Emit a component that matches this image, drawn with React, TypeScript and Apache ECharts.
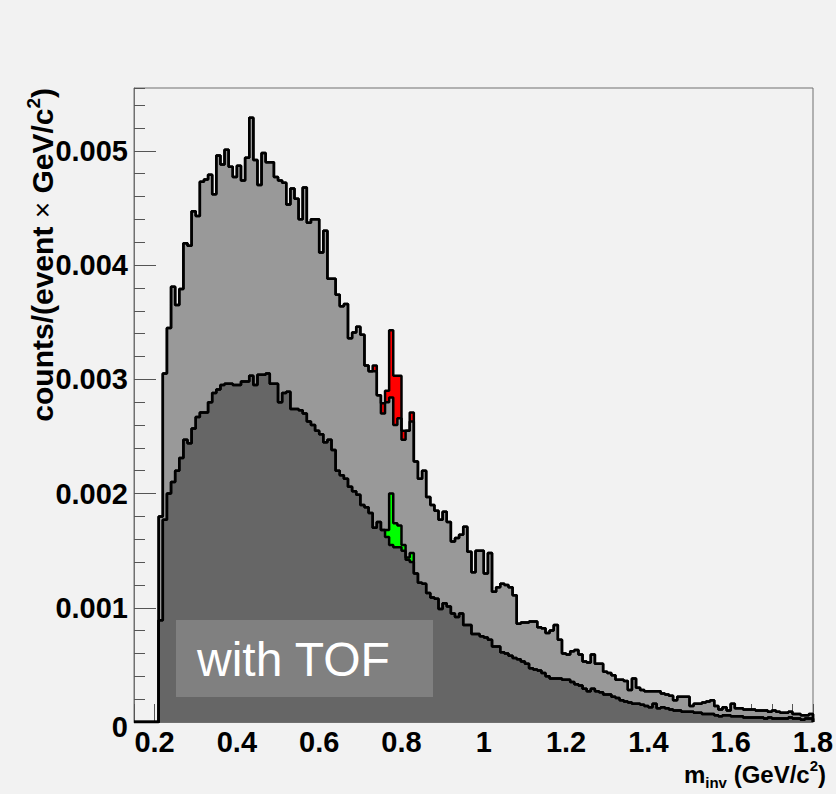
import React, { useEffect, useRef } from 'react';
import * as echarts from 'echarts';

// ---- binning (GeV/c^2) ----
const BIN_START = 0.15;
const BIN_WIDTH = 0.01;
const X_MIN = 0.15;
const X_MAX = 1.8;
const Y_MAX = 0.00555;
const VALUE_UNIT = 0.001; // arrays below are in units of 1e-3 counts/(event x GeV/c^2)

// Upper histogram (all pairs), without omega contribution, bins 0.15 ... 1.79
const allPairs = [
  0, 0, 0, 0, 0, 0,
  1.80,
  3.05, 3.45, 3.81, 3.65, 3.79, 4.19, 4.17, 4.47, 4.43,
  4.73, 4.75, 4.79, 4.62, 4.96, 4.88, 5.01, 4.86, 4.77, 4.87,
  4.74, 4.94, 5.29, 4.92, 4.70, 4.98, 4.90, 4.90, 4.77, 4.74,
  4.72, 4.53, 4.67, 4.58, 4.40, 4.68, 4.37, 4.40, 4.40, 4.11,
  4.30, 3.88, 3.88, 3.74, 3.64, 3.66, 3.36, 3.41, 3.46, 3.39,
  3.12, 3.07, 3.07, 2.86, 2.70, 2.80, 2.84, 2.60, 2.66, 2.47,
  2.55, 2.63, 2.28, 2.13, 2.20, 1.97, 1.90, 1.85, 1.77, 1.84,
  1.75, 1.58, 1.61, 1.64, 1.71, 1.49, 1.31, 1.50, 1.50, 1.30,
  1.48, 1.14, 1.18, 1.21, 1.20, 1.18, 1.11, 0.86, 0.87, 0.87,
  0.88, 0.88, 0.83, 0.82, 0.78, 0.80, 0.85, 0.72, 0.60, 0.59,
  0.62, 0.63, 0.59, 0.53, 0.52, 0.59, 0.51, 0.51, 0.44, 0.43,
  0.41, 0.37, 0.37, 0.36, 0.28, 0.38, 0.30, 0.28, 0.27, 0.27,
  0.27, 0.27, 0.25, 0.24, 0.23, 0.19, 0.22, 0.22, 0.22, 0.14,
  0.16, 0.16, 0.17, 0.18, 0.19, 0.14, 0.11, 0.13, 0.10, 0.16,
  0.12, 0.12, 0.11, 0.11, 0.11, 0.10, 0.10, 0.10, 0.09, 0.10,
  0.09, 0.08, 0.08, 0.09, 0.07, 0.07, 0.06, 0.06, 0.07,
];

// Lower histogram (with TOF), without omega contribution, bins 0.15 ... 1.79
const tofPairs = [
  0, 0, 0, 0, 0, 0,
  0.89,
  1.77, 2.00, 2.10, 2.20, 2.31, 2.47, 2.44, 2.57, 2.67,
  2.71, 2.71, 2.80, 2.88, 2.91, 2.95, 2.96, 2.96, 2.95, 2.95,
  2.98, 2.98, 3.03, 2.95, 3.04, 3.04, 3.05, 2.96, 2.96, 2.80,
  2.88, 2.89, 2.74, 2.74, 2.73, 2.70, 2.63, 2.60, 2.55, 2.52,
  2.45, 2.47, 2.38, 2.20, 2.16, 2.13, 2.06, 2.02, 1.99, 1.90,
  1.88, 1.83, 1.70, 1.75, 1.68, 1.62, 1.55, 1.53, 1.53, 1.50,
  1.42, 1.40, 1.30, 1.22, 1.21, 1.13, 1.09, 1.08, 0.99, 1.04,
  1.01, 0.95, 0.92, 0.95, 0.85, 0.85, 0.77, 0.77, 0.75, 0.74,
  0.72, 0.66, 0.66, 0.61, 0.60, 0.58, 0.56, 0.55, 0.53, 0.51,
  0.47, 0.46, 0.45, 0.43, 0.40, 0.38, 0.38, 0.38, 0.37, 0.37,
  0.35, 0.33, 0.32, 0.29, 0.27, 0.29, 0.27, 0.26, 0.24, 0.24,
  0.22, 0.21, 0.19, 0.18, 0.17, 0.16, 0.16, 0.15, 0.14, 0.13,
  0.16, 0.12, 0.13, 0.12, 0.11, 0.10, 0.10, 0.09, 0.09, 0.09,
  0.08, 0.08, 0.07, 0.07, 0.07, 0.06, 0.05, 0.06, 0.06, 0.05,
  0.05, 0.05, 0.04, 0.04, 0.04, 0.04, 0.04, 0.03, 0.04, 0.03,
  0.03, 0.03, 0.03, 0.04, 0.03, 0.03, 0.02, 0.03, 0.03,
];

// omega peak region: histogram contents including the omega contribution
const omegaAllStart = 0.73;
const omegaAll = [3.12, 2.86, 2.79, 2.90, 3.43, 3.03, 3.03, 2.55, 2.55, 2.71];
const omegaTofStart = 0.76;
const omegaTof = [1.68, 2.00, 1.74, 1.72, 1.55, 1.44, 1.48];

const xTickLabels = ['0.2', '0.4', '0.6', '0.8', '1', '1.2', '1.4', '1.6', '1.8'];
const yTickLabels = ['0', '0.001', '0.002', '0.003', '0.004', '0.005'];

const FONT = '"Liberation Sans", Arial, Helvetica, sans-serif';

function withPeak(bg: number[], start: number, peak: number[]): number[] {
  const out = bg.slice();
  const i0 = Math.round((start - BIN_START) / BIN_WIDTH);
  peak.forEach((v, k) => {
    out[i0 + k] = v;
  });
  return out;
}

function toSteps(vals: number[]): [number, number][] {
  const pts: [number, number][] = vals.map((v, i) => [
    +(BIN_START + i * BIN_WIDTH).toFixed(4),
    v * VALUE_UNIT,
  ]);
  pts.push([X_MAX, vals[vals.length - 1] * VALUE_UNIT]);
  pts.push([X_MAX, 0]);
  return pts;
}

function histSeries(name: string, vals: number[], fill: string) {
  return {
    type: 'line',
    name,
    data: toSteps(vals),
    step: 'end',
    symbol: 'none',
    showSymbol: false,
    silent: true,
    lineStyle: { color: '#000', width: 2.5 },
    areaStyle: { color: fill, opacity: 1 },
  };
}

export default function App() {
  const ref = useRef<HTMLDivElement>(null);

  useEffect(() => {
    if (!ref.current) return;
    const chart = echarts.init(ref.current, undefined, { renderer: 'svg' });

    const allTotal = withPeak(allPairs, omegaAllStart, omegaAll);
    const tofTotal = withPeak(tofPairs, omegaTofStart, omegaTof);

    const labelFont = { fontSize: 29, fontWeight: 'bold', fontFamily: FONT, color: '#000' };

    const option: any = {
      animation: false,
      backgroundColor: '#f2f2f2',
      grid: {
        left: 134,
        top: 88,
        width: 679,
        height: 634,
        show: true,
        borderColor: '#707070',
        borderWidth: 1,
        backgroundColor: 'transparent',
        containLabel: false,
        outerBoundsMode: 'none',
      },
      xAxis: {
        type: 'value',
        min: X_MIN,
        max: X_MAX,
        interval: 0.05,
        axisLine: { show: true, onZero: false, lineStyle: { color: '#707070', width: 1 } },
        axisTick: { show: true, inside: true, length: 18, lineStyle: { color: '#555', width: 1 } },
        splitLine: { show: false },
        axisLabel: {
          interval: 0,
          margin: 5,
          ...labelFont,
          showMinLabel: true,
          showMaxLabel: true,
          formatter: (v: number) => {
            const k = Math.round(v / 0.2);
            if (k >= 1 && Math.abs(v - k * 0.2) < 1e-6) return xTickLabels[k - 1];
            return '';
          },
        },
      },
      yAxis: [
        {
          type: 'value',
          min: 0,
          max: Y_MAX,
          interval: 0.001,
          position: 'left',
          axisLine: { show: true, onZero: false, lineStyle: { color: '#707070', width: 1 } },
          axisTick: { show: true, inside: true, length: 22, lineStyle: { color: '#555', width: 1 } },
          splitLine: { show: false },
          axisLabel: {
            margin: 6,
            ...labelFont,
            showMaxLabel: false,
            rich: {
              z: { ...labelFont, padding: [9, 0, 0, 0] },
            },
            formatter: (v: number) => {
              const k = Math.round(v / 0.001);
              if (k === 0 && Math.abs(v) < 1e-12) return '{z|' + yTickLabels[0] + '}';
              if (k <= 5 && Math.abs(v - k * 0.001) < 1e-9) return yTickLabels[k];
              return '';
            },
          },
        },
        {
          type: 'value',
          min: 0,
          max: Y_MAX,
          interval: 0.0002,
          position: 'left',
          axisLine: { show: false },
          axisTick: { show: true, inside: true, length: 11, lineStyle: { color: '#555', width: 1 } },
          splitLine: { show: false },
          axisLabel: { show: false },
        },
      ],
      series: [
        histSeries('all (with omega)', allTotal, '#ff0000'),
        histSeries('all', allPairs, '#999999'),
        histSeries('with TOF (with omega)', tofTotal, '#00ff00'),
        histSeries('with TOF', tofPairs, '#666666'),
      ],
      graphic: [
        {
          type: 'rect',
          z: 100,
          shape: { x: 176, y: 620, width: 257, height: 77 },
          style: { fill: '#808080' },
        },
        {
          type: 'text',
          z: 101,
          x: 197,
          y: 659,
          style: {
            text: 'with TOF',
            fill: '#ffffff',
            font: `48px ${FONT}`,
            align: 'left',
            verticalAlign: 'middle',
          },
        },
        {
          type: 'text',
          z: 101,
          x: 60,
          y: 88,
          rotation: Math.PI / 2,
          style: {
            text: '{b|counts/(event }{x|×}{b| GeV/c}{s|2}{b|)}',
            align: 'right',
            verticalAlign: 'bottom',
            rich: {
              b: { fontSize: 30, fontWeight: 'bold', fontFamily: FONT, lineHeight: 36, fill: '#000' },
              x: { fontSize: 28, fontWeight: 'normal', fontFamily: FONT, lineHeight: 36, fill: '#000' },
              s: { fontSize: 19, fontWeight: 'bold', fontFamily: FONT, lineHeight: 19, verticalAlign: 'top', fill: '#000' },
            },
          },
        },
        {
          type: 'text',
          z: 101,
          x: 826,
          y: 758,
          style: {
            text: '{b|m}{sub|inv}{b| (GeV/c}{s|2}{b|)}',
            align: 'right',
            verticalAlign: 'top',
            rich: {
              b: { fontSize: 24, fontWeight: 'bold', fontFamily: FONT, lineHeight: 32, fill: '#000' },
              sub: { fontSize: 15, fontWeight: 'bold', fontFamily: FONT, lineHeight: 13, verticalAlign: 'bottom', fill: '#000' },
              s: { fontSize: 15, fontWeight: 'bold', fontFamily: FONT, lineHeight: 14, verticalAlign: 'top', fill: '#000' },
            },
          },
        },
      ],
    };

    chart.setOption(option);
    return () => {
      chart.dispose();
    };
  }, []);

  return (
    <div
      ref={ref}
      style={{ position: 'fixed', left: 0, top: 0, width: 836, height: 794 }}
    />
  );
}
